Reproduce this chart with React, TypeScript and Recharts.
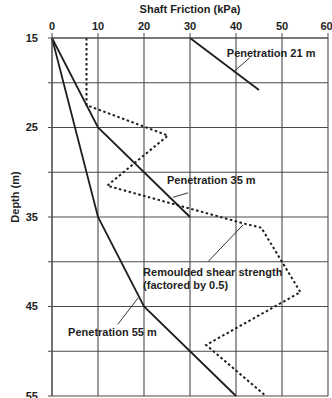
import React from 'react';
import { LineChart, Line, XAxis, YAxis, CartesianGrid, ReferenceLine, ReferenceDot } from 'recharts';

const xTicks = [0, 10, 20, 30, 40, 50, 60];
const yTicks = [15, 20, 25, 30, 35, 40, 45, 50, 55];
const yLabelled = [15, 25, 35, 45, 55];

const pen21 = [
  { x: 30, y: 15 },
  { x: 45, y: 20.8 },
];
const pen35 = [
  { x: 0, y: 15 },
  { x: 10, y: 25 },
  { x: 30, y: 35 },
];
const pen55 = [
  { x: 0, y: 15 },
  { x: 10, y: 35 },
  { x: 20, y: 45 },
  { x: 40, y: 55 },
];
const remoulded = [
  { x: 7.5, y: 15 },
  { x: 7.5, y: 22.5 },
  { x: 25.2, y: 25.9 },
  { x: 12, y: 31.5 },
  { x: 41.5, y: 35.7 },
  { x: 45.5, y: 36.2 },
  { x: 54, y: 43.4 },
  { x: 33.5, y: 49.3 },
  { x: 46.5, y: 55 },
];

const annotations = [
  { x: 38.0, y: 16.7, lines: ['Penetration 21 m'] },
  { x: 25.0, y: 30.9, lines: ['Penetration 35 m'] },
  { x: 19.8, y: 41.1, lines: ['Remoulded shear strength', '(factored by 0.5)'] },
  { x: 3.5, y: 47.85, lines: ['Penetration 55 m'] },
];
const leaders = [
  [{ x: 39.4, y: 18.8 }, { x: 43.0, y: 17.2 }],
  [{ x: 26.3, y: 32.8 }, { x: 29.6, y: 32.3 }],
  [{ x: 33.9, y: 40.0 }, { x: 41.5, y: 35.9 }],
  [{ x: 14.3, y: 47.0 }, { x: 18.7, y: 44.05 }],
];

const FONT = '"Liberation Sans", Arial, sans-serif';
const INK = '#1e1e1e';

const makeLabel = (lines: string[]) => (props: any) => {
  const vb = props.viewBox || {};
  const x = vb.x ?? 0;
  const y = vb.y ?? 0;
  return (
    <text x={x} y={y} fontFamily={FONT} fontSize={11} fontWeight="bold" fill={INK}>
      {lines.map((l, i) => (
        <tspan key={i} x={x} dy={i === 0 ? 4 : 13}>
          {l}
        </tspan>
      ))}
    </text>
  );
};

const YLabel = (props: any) => {
  const vb = props.viewBox || {};
  const cy = (vb.y ?? 0) + (vb.height ?? 0) / 2 - 20;
  return (
    <text
      x={15}
      y={cy}
      transform={`rotate(-90 15 ${cy})`}
      textAnchor="middle"
      dominantBaseline="central"
      fontFamily={FONT}
      fontSize={11}
      fontWeight="bold"
      fill={INK}
    >
      Depth (m)
    </text>
  );
};

export default function App() {
  return (
    <div style={{ position: 'absolute', left: 0, top: 0, background: '#fff' }}>
      <LineChart
        width={332}
        height={398}
        margin={{ top: 0, right: 4, bottom: 2, left: 0 }}
        style={{ fontFamily: FONT }}
      >
        <CartesianGrid stroke="#4a4a4a" strokeWidth={1.1} />
        <XAxis
          type="number"
          dataKey="x"
          orientation="top"
          domain={[0, 60]}
          ticks={xTicks}
          height={38}
          tickSize={5}
          tickMargin={3}
          stroke="#4a4a4a"
          tick={{ fontSize: 11, fontWeight: 'bold', fill: INK, fontFamily: FONT }}
          label={{
            value: 'Shaft Friction (kPa)',
            position: 'insideTop',
            offset: 5,
            style: { fontSize: 11, fontWeight: 'bold', fill: INK, fontFamily: FONT },
          }}
        />
        <YAxis
          type="number"
          dataKey="y"
          reversed
          domain={[15, 55]}
          ticks={yTicks}
          width={52}
          tickSize={4}
          tickMargin={10}
          interval={0}
          stroke="#4a4a4a"
          tickFormatter={(v: number) => (yLabelled.includes(v) ? String(v) : '')}
          tick={{ fontSize: 11, fontWeight: 'bold', fill: INK, fontFamily: FONT }}
          label={<YLabel />}
        />
        <Line data={pen21} dataKey="y" type="linear" stroke={INK} strokeWidth={1.8} dot={false} isAnimationActive={false} />
        <Line data={pen35} dataKey="y" type="linear" stroke={INK} strokeWidth={1.8} dot={false} isAnimationActive={false} />
        <Line data={pen55} dataKey="y" type="linear" stroke={INK} strokeWidth={1.8} dot={false} isAnimationActive={false} />
        <Line
          data={remoulded}
          dataKey="y"
          type="linear"
          stroke={INK}
          strokeWidth={2}
          strokeDasharray="2.5 2.5"
          dot={false}
          isAnimationActive={false}
        />
        {leaders.map((seg, i) => (
          <ReferenceLine key={'l' + i} segment={seg} stroke="#333" strokeWidth={1} ifOverflow="visible" />
        ))}
        {annotations.map((a, i) => (
          <ReferenceDot
            key={'a' + i}
            x={a.x}
            y={a.y}
            r={0}
            fill="none"
            stroke="none"
            ifOverflow="visible"
            label={makeLabel(a.lines)}
          />
        ))}
      </LineChart>
    </div>
  );
}
